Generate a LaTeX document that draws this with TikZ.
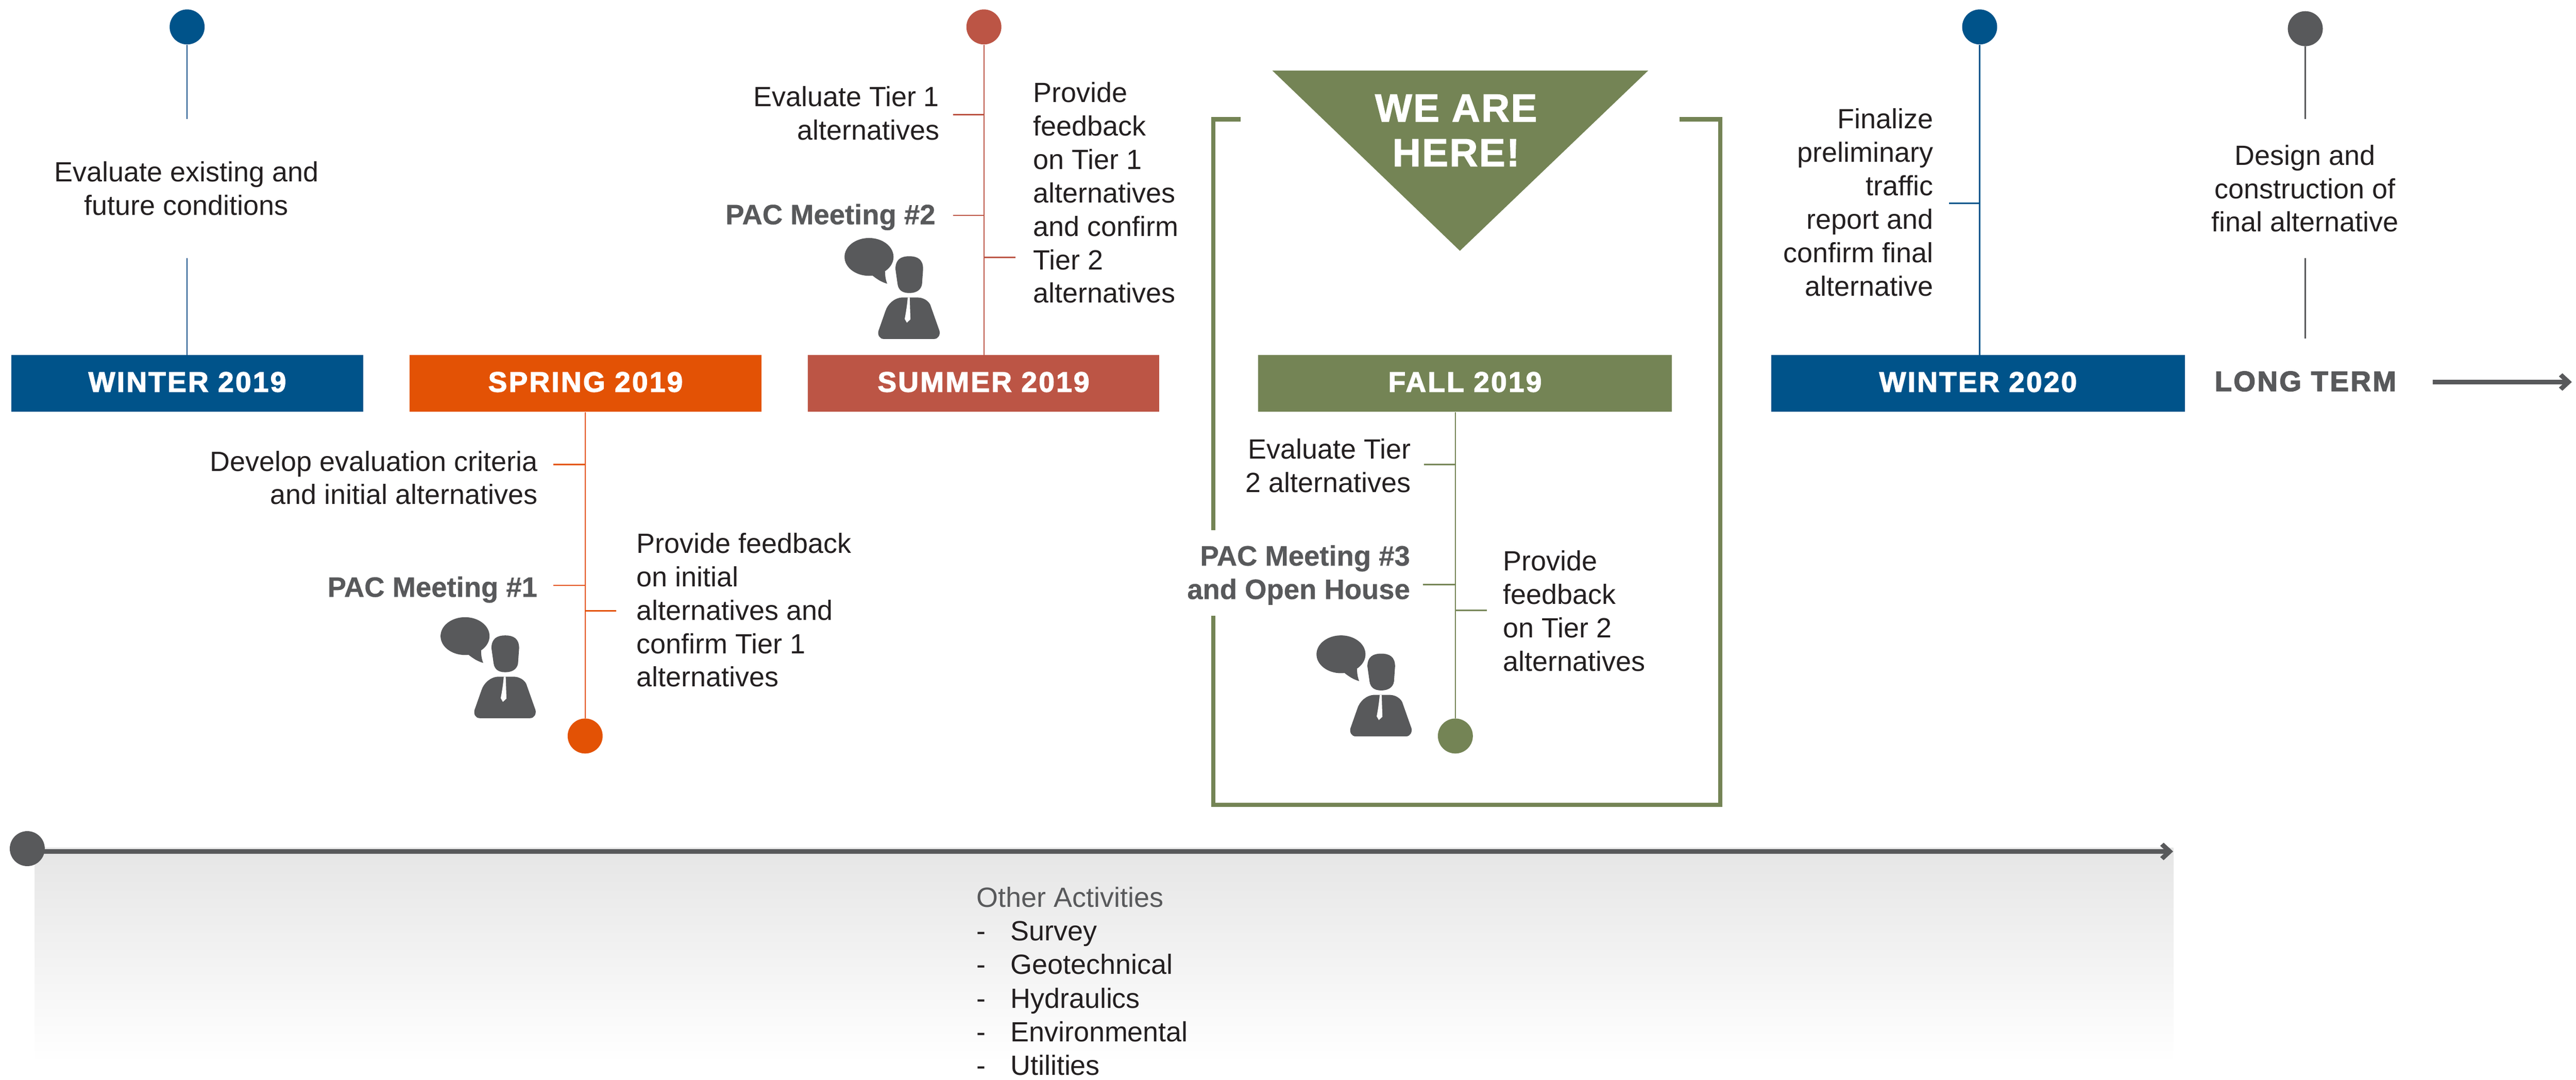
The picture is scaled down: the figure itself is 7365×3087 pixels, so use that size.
\documentclass[tikz,border=0pt]{standalone}
\usepackage{fontspec}
\setmainfont{Liberation Sans}
\newfontfamily\hdf{Liberation Sans}[LetterSpace=6,BoldFeatures={FakeBold=2.5}]
\newfontfamily\pacf{Liberation Sans}[BoldFeatures={FakeBold=0.6}]
\newfontfamily\wef{Liberation Sans}[LetterSpace=3,BoldFeatures={FakeBold=1.5}]
\definecolor{cblue}{HTML}{00538A}
\definecolor{corange}{HTML}{E35205}
\definecolor{cred}{HTML}{BC5545}
\definecolor{cgreen}{HTML}{748455}
\definecolor{cgray}{HTML}{58595B}
\definecolor{ctext}{HTML}{231F20}
\tikzset{
  bodytext/.style={inner sep=0pt,text=ctext,font=\fontsize{22.6}{27.2}\selectfont},
  rtext/.style={bodytext,anchor=east,align=right},
  ltext/.style={bodytext,anchor=west,align=left},
  ctxt/.style={bodytext,anchor=center,align=center},
  pactext/.style={inner sep=0pt,anchor=east,align=right,text=cgray,font=\fontsize{22.8}{27.2}\selectfont\pacf\bfseries},
  season/.style={inner sep=0pt,minimum height=1.62cm,text height=0.48cm,text depth=0pt,text=white,font=\fontsize{23}{27.2}\selectfont\hdf\bfseries},
  dot/.style={circle,inner sep=0pt,minimum size=1cm},
  stem/.style={line width=0.035cm},
  person/.pic={
    \fill[cgray] (-27,-234.6) ellipse [x radius=0.7cm,y radius=0.54cm];
    \fill[cgray] (-16.8,-186) -- (-16.8,-181) .. controls (-3,-170) and (10,-162) .. (25,-158) .. controls (20,-170) and (18.9,-182) .. (18.9,-193.8) -- cycle;
    \fill[cgray] (48.5,-200) .. controls (48.5,-228) and (65,-236.5) .. (88,-236.5) .. controls (111,-236.5) and (127.6,-228) .. (127.6,-200) -- (124.5,-157) .. controls (122,-140) and (108,-131.3) .. (88,-131.3) .. controls (68,-131.3) and (57,-140) .. (54.6,-157) -- cycle;
    \fill[cgray] (15,0) .. controls (3,0) and (-3,-12) .. (0,-23) -- (20,-80) .. controls (26,-99) and (45,-118.6) .. (70,-118.6) -- (110.7,-118.6) .. controls (130,-118.6) and (143,-108) .. (148,-98) -- (174.5,-23) .. controls (177,-12) and (171,0) .. (159,0) -- cycle;
    \fill[white] (83.7,-118.6) -- (89.3,-118.6) -- (91.4,-56) -- (81.2,-46.5) -- (75,-57.3) .. controls (79,-78) and (82,-98) .. (83.7,-118.6) -- cycle;
  },
  arrowhead/.pic={
    \fill[cgray] (0,0) -- (-27,-25) -- (-37,-16) -- (-27,-7) -- (-27,7) -- (-37,16) -- (-27,25) -- cycle;
  }
}
\begin{document}
\begin{tikzpicture}[x=0.01cm,y=-0.01cm]
\useasboundingbox (0,0) rectangle (7365,3087);

% gradient band and bottom arrow
\shade[top color=black!10,bottom color=white] (99,2424) rectangle (6214,3040);
\coordinate (barstart) at (78,2434);
\coordinate (barend) at (6186,2434);
\draw[line width=0.14cm,cgray] (barstart) -- (barend);
\pic at (6213,2434) {arrowhead};
\node[dot,fill=cgray] (bardot) at (78,2426) {};

% boxes
\node[season,fill=cblue,minimum width=10.05cm] (w19) at (535.5,1096) {WINTER 2019};
\node[season,fill=corange,minimum width=10.05cm] (sp19) at (1674,1096) {SPRING 2019};
\node[season,fill=cred,minimum width=10.05cm] (su19) at (2812,1096) {SUMMER 2019};
\node[season,fill=cgreen,minimum width=11.81cm] (fa19) at (4188.5,1096) {FALL 2019};
\node[season,fill=cblue,minimum width=11.82cm] (w20) at (5655.5,1096) {WINTER 2020};

% dots
\node[dot,fill=cblue] (dw19) at (535,77) {};
\node[dot,fill=corange] (dsp) at (1673,2104) {};
\node[dot,fill=cred] (dsu) at (2813,77) {};
\node[dot,fill=cgreen] (dfa) at (4161,2104) {};
\node[dot,fill=cblue] (dw20) at (5660,77) {};
\node[dot,fill=cgray] (dlt) at (6591,82) {};

% winter 2019
\coordinate (w19a) at (535,340);
\coordinate (w19b) at (535,738);
\draw[stem,cblue] (dw19) -- (w19a);
\draw[stem,cblue] (w19b) -- (w19b |- w19.north);
\node[ctxt] (tw19) at (533,548) {\strut Evaluate existing and\\future conditions\strut};

% spring 2019
\draw[stem,corange] (sp19.south -| dsp) -- (dsp);
\coordinate (sp1) at (1582,1328);
\coordinate (sp2) at (1582,1673);
\coordinate (sp3) at (1762,1746);
\draw[stem,corange] (sp1) -- (sp1 -| dsp);
\draw[stem,corange] (sp2) -- (sp2 -| dsp);
\draw[stem,corange] (sp3) -- (sp3 -| dsp);
\node[rtext] (tsp1) at (1538,1375) {\strut Develop evaluation criteria\\and initial alternatives\strut};
\node[pactext] (tsp2) at (1537,1687) {\strut PAC Meeting \#1\strut};
\node[ltext] (tsp3) at (1819,1753) {\strut Provide feedback\\on initial\\alternatives and\\confirm Tier 1\\alternatives\strut};
\pic at (1356.6,2053) {person};

% summer 2019
\draw[stem,cred] (dsu) -- (dsu |- su19.north);
\coordinate (su1) at (2725,327.5);
\coordinate (su2) at (2725,616);
\coordinate (su3) at (2903,736);
\draw[stem,cred] (su1) -- (su1 -| dsu);
\draw[stem,cred] (su2) -- (su2 -| dsu);
\draw[stem,cred] (su3) -- (su3 -| dsu);
\node[rtext] (tsu1) at (2686,333) {\strut Evaluate Tier 1\\alternatives\strut};
\node[pactext] (tsu2) at (2675,622) {\strut PAC Meeting \#2\strut};
\node[ltext] (tsu3) at (2954,560) {\strut Provide\\feedback\\on Tier 1\\alternatives\\and confirm\\Tier 2\\alternatives\strut};
\pic at (2511.6,969) {person};

% fall 2019
\draw[cgreen,line width=0.125cm] (3547,341) -- (3469,341) -- (3469,1515);
\draw[cgreen,line width=0.125cm] (3469,1760) -- (3469,2301) -- (4918,2301) -- (4918,341) -- (4802,341);
\fill[cgreen] (3638,202) -- (4712,202) -- (4174,717) -- cycle;
\node[inner sep=0pt,align=center,text=white,font=\fontsize{32}{36.3}\selectfont\wef\bfseries] (here) at (4163,386) {\strut WE ARE\\HERE!\strut};
\draw[stem,cgreen] (fa19.south -| dfa) -- (dfa);
\coordinate (fa1) at (4072,1328);
\coordinate (fa2) at (4068,1671);
\coordinate (fa3) at (4251,1745);
\draw[stem,cgreen] (fa1) -- (fa1 -| dfa);
\draw[stem,cgreen] (fa2) -- (fa2 -| dfa);
\draw[stem,cgreen] (fa3) -- (fa3 -| dfa);
\node[rtext] (tfa1) at (4035,1341) {\strut Evaluate Tier\\2 alternatives\strut};
\node[pactext] (tfa2) at (4032,1645.5) {\strut PAC Meeting \#3\\and Open House\strut};
\node[ltext] (tfa3) at (4297,1755.5) {\strut Provide\\feedback\\on Tier 2\\alternatives\strut};
\pic at (3861,2105) {person};

% winter 2020
\draw[stem,cblue] (dw20) -- (dw20 |- w20.north);
\coordinate (w201) at (5573,581);
\draw[stem,cblue] (w201) -- (w201 -| dw20);
\node[rtext] (tw20) at (5528,588) {\strut Finalize\\preliminary\\traffic\\report and\\confirm final\\alternative\strut};

% long term
\coordinate (lt1) at (6591,340);
\coordinate (lt2) at (6591,738);
\coordinate (lt3) at (6591,968);
\draw[cgray,stem] (dlt) -- (lt1);
\draw[cgray,stem] (lt2) -- (lt3);
\node[ctxt] (tlt) at (6590,548) {\strut Design and\\construction of\\final alternative\strut};
\node[inner sep=0pt,anchor=base west,text=cgray,font=\fontsize{23}{27.2}\selectfont\hdf\bfseries] (ltlabel) at (6331,1118) {LONG TERM};
\coordinate (ar1) at (6956,1092);
\coordinate (ar2) at (7326,1092);
\draw[cgray,line width=0.14cm] (ar1) -- (ar2);
\pic at (7353,1092) {arrowhead};

% other activities
\node[bodytext,anchor=west,align=left,font=\fontsize{22.6}{27.3}\selectfont] (other) at (2792,2814) {\strut\textcolor{cgray}{Other Activities}\\
\makebox[0.96cm][l]{-}Survey\\
\makebox[0.96cm][l]{-}Geotechnical\\
\makebox[0.96cm][l]{-}Hydraulics\\
\makebox[0.96cm][l]{-}Environmental\\
\makebox[0.96cm][l]{-}Utilities\strut};
\end{tikzpicture}
\end{document}
